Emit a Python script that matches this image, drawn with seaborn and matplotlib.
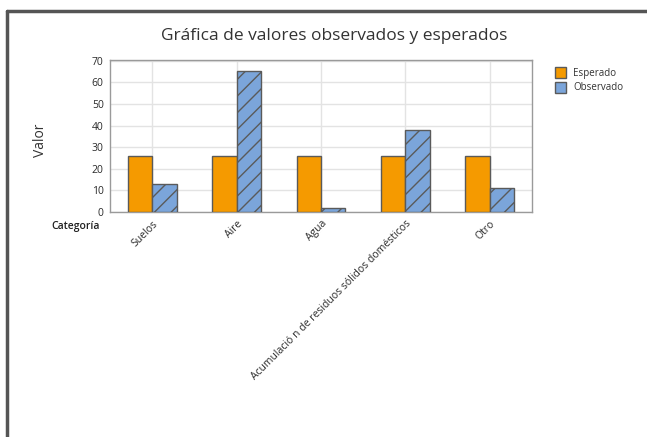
import numpy as np
import pandas as pd
import seaborn as sns
import matplotlib.pyplot as plt
from matplotlib.patches import Patch
from matplotlib.lines import Line2D

categorias = ["Suelos", "Aire", "Agua",
              "Acumulació n de residuos sólidos domésticos", "Otro"]
esperado = [25.8, 25.8, 25.8, 25.8, 25.8]
observado = [13, 65, 2, 38, 11]
series = ["Esperado", "Observado"]
colores = ["#F59A00", "#7BA5DA"]
yticks = [0, 10, 20, 30, 40, 50, 60, 70]

df = pd.DataFrame({
    "Categoría": categorias * 2,
    "Tipo": [series[0]] * len(categorias) + [series[1]] * len(categorias),
    "Valor": esperado + observado,
})

sns.set_style("white")
plt.rcParams["font.family"] = ["Open Sans", "DejaVu Sans"]
plt.rcParams["hatch.color"] = "#3a3a3a"
plt.rcParams["hatch.linewidth"] = 1.0

fig = plt.figure(figsize=(6.47, 4.37), dpi=100)
ax = fig.add_axes([110 / 647, 1 - 212 / 437, 422 / 647, 152 / 437])

sns.barplot(data=df, x="Categoría", y="Valor", hue="Tipo", order=categorias,
            hue_order=series, palette=colores, width=0.58, saturation=1,
            edgecolor="#5a5a5a", linewidth=1.0, ax=ax, legend=False, zorder=3)

for bar in ax.containers[1]:
    bar.set_hatch("//")

ax.set_xlim(-0.5, 4.5)
ax.set_ylim(0, 70.3)
ax.set_yticks(yticks)
ax.grid(True, color="#e3e3e3", linewidth=1.0, zorder=0)
ax.set_axisbelow(True)
for s in ax.spines.values():
    s.set_color("#9a9a9a")
    s.set_linewidth(1.0)
ax.tick_params(axis="both", length=3, width=0.8, color="#9a9a9a",
               labelsize=7.5, labelcolor="#2a2a2a", pad=1.5)
ax.set_xticks(range(len(categorias)))
ax.set_xticklabels(categorias, rotation=45, ha="right",
                   rotation_mode="anchor")
ax.set_xlabel("")
ax.set_ylabel("")

fig.text(334 / 647, 1 - 36 / 437, "Gráfica de valores observados y esperados",
         ha="center", va="center", fontsize=12.5, color="#333333",
         fontweight="medium")
fig.text(40 / 647, 1 - 140 / 437, "Valor", rotation=90, ha="center",
         va="center", fontsize=10, color="#333333")
fig.text(100 / 647, 1 - 226 / 437, "Categoría", ha="right", va="center",
         fontsize=7.5, color="#202020", fontweight="semibold")

handles = [
    Patch(facecolor=colores[0], edgecolor="#5a5a5a", label=series[0]),
    Patch(facecolor=colores[1], edgecolor="#5a5a5a", hatch="/", label=series[1]),
]
fig.legend(handles=handles, loc="upper left",
           bbox_to_anchor=(546 / 647, 1 - 58 / 437), frameon=False,
           fontsize=7, handlelength=1.2, handleheight=1.4, handletextpad=0.7,
           labelspacing=0.3, labelcolor="#333333")

fig.add_artist(Line2D([7 / 647, 7 / 647], [0, 1 - 11 / 437],
                      color="#555555", linewidth=2.5))
fig.add_artist(Line2D([7 / 647, 1], [1 - 11 / 437, 1 - 11 / 437],
                      color="#555555", linewidth=2.5))

fig.savefig("out.png", dpi=100, facecolor="white")
